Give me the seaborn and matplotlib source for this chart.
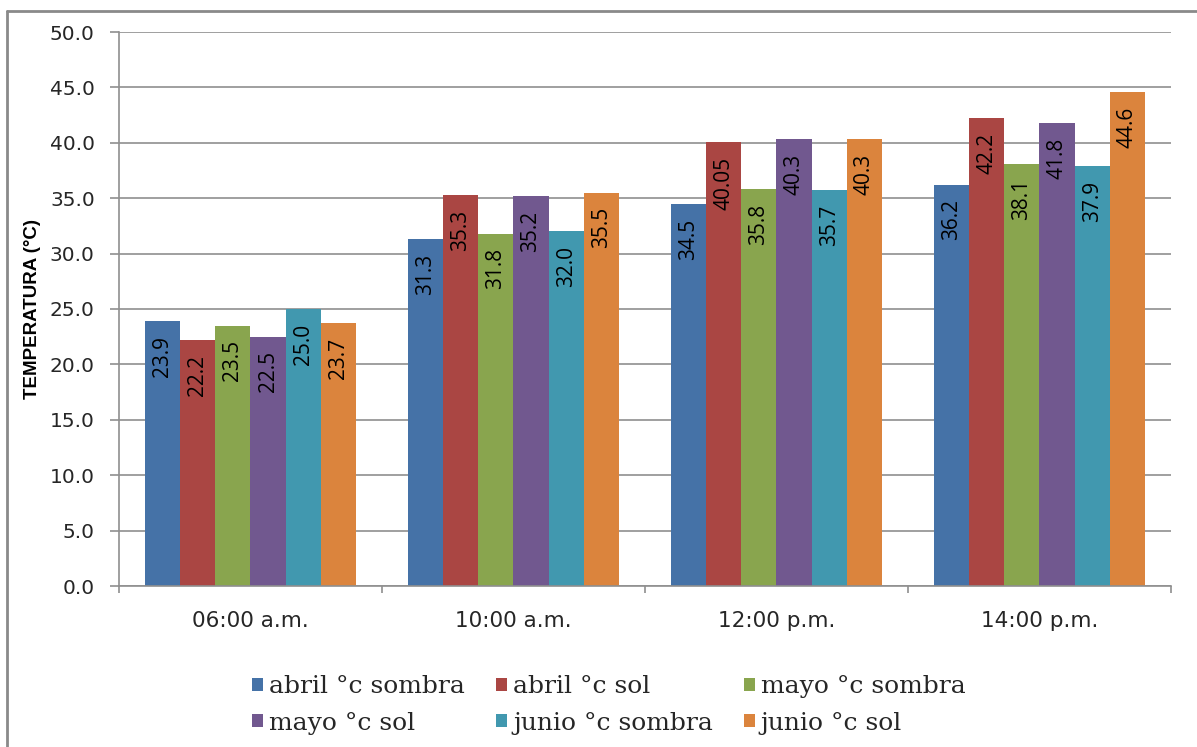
import matplotlib
matplotlib.use("Agg")
import matplotlib.pyplot as plt
from matplotlib.lines import Line2D
from matplotlib.ticker import FixedLocator, FuncFormatter
import numpy as np
import pandas as pd
import seaborn as sns

# Hours of measurement
horas = ["06:00 a.m.", "10:00 a.m.", "12:00 p.m.", "14:00 p.m."]

# Temperature series (°C)
series = ["abril °c sombra", "abril °c sol", "mayo °c sombra",
          "mayo °c sol", "junio °c sombra", "junio °c sol"]
abril_sombra = [23.9, 31.3, 34.5, 36.2]
abril_sol = [22.2, 35.3, 40.05, 42.2]
mayo_sombra = [23.5, 31.8, 35.8, 38.1]
mayo_sol = [22.5, 35.2, 40.3, 41.8]
junio_sombra = [25.0, 32.0, 35.7, 37.9]
junio_sol = [23.7, 35.5, 40.3, 44.6]
valores = [abril_sombra, abril_sol, mayo_sombra, mayo_sol, junio_sombra, junio_sol]

colores = ["#4572A7", "#AA4643", "#89A54E", "#71588F", "#4198AF", "#DB843D"]

df = pd.DataFrame(
    [(h, s, v) for s, vals in zip(series, valores) for h, v in zip(horas, vals)],
    columns=["hora", "serie", "temp"],
)

sns.set_style("white")
plt.rcParams["font.family"] = ["DejaVu Sans"]

fig = plt.figure(figsize=(11.97, 7.47), dpi=100)
W, H = 1197, 747
ax = fig.add_axes([119 / W, 1 - 586 / H, 1052 / W, 554 / H])

sns.barplot(
    data=df, x="hora", y="temp", hue="serie", order=horas, hue_order=series,
    palette=colores, saturation=1, width=0.8, linewidth=0, ax=ax,
)

handles, labels = ax.get_legend_handles_labels()
ax.get_legend().remove()

grid_col = "#8f8f8f"
ax.set_ylim(0, 50)
ax.set_xlim(-0.5, len(horas) - 0.5)
ax.set_yticks(np.arange(0, 50.1, 5))
ax.yaxis.set_major_formatter(FuncFormatter(lambda v, p: f"{v:.1f}"))
ax.yaxis.grid(True, color=grid_col, linewidth=1.2)
ax.set_axisbelow(True)
for side in ("top", "right"):
    ax.spines[side].set_visible(False)
for side in ("left", "bottom"):
    ax.spines[side].set_color(grid_col)
    ax.spines[side].set_linewidth(1.2)

ax.tick_params(axis="y", length=6.5, width=1.2, color=grid_col, pad=11,
               labelsize=14.5, labelcolor="#262626", left=True)
ax.tick_params(axis="x", which="major", length=0, pad=18, labelsize=15.5,
               labelcolor="#262626")
ax.xaxis.set_minor_locator(FixedLocator(np.arange(-0.5, len(horas), 1.0)))
ax.tick_params(axis="x", which="minor", length=5, width=1.2, color=grid_col,
               bottom=True)

ax.set_xlabel("")
ax.set_ylabel("TEMPERATURA (°C)", fontsize=13.5, fontweight="bold",
              family="Liberation Sans", color="black")
ax.yaxis.set_label_coords(-0.074, 0.5)


def etiqueta(v):
    s = f"{v:.2f}"
    return s[:-1] if s.endswith("0") else s


for cont, vals in zip(ax.containers, valores):
    for bar, v in zip(cont, vals):
        x = bar.get_x() + bar.get_width() / 2
        ax.annotate(etiqueta(v), (x, v), xytext=(0, -10.5),
                    textcoords="offset points", rotation=90,
                    ha="center", va="top", fontsize=15,
                    family="Open Sans", color="black")

# Legend laid out row by row in three columns
orden = [0, 3, 1, 4, 2, 5]
fig.legend(
    [handles[i] for i in orden], [labels[i] for i in orden],
    loc="center", bbox_to_anchor=(609 / W, 1 - 705 / H), ncol=3,
    frameon=False, prop=dict(family="DejaVu Serif", size=18),
    handlelength=0.42, handleheight=0.42, handletextpad=0.25,
    columnspacing=1.25, labelspacing=0.55,
)

# Chart area border (left and top edges)
frame_col = "#8a8a8a"
fig.add_artist(Line2D([7 / W, 7 / W], [0, 1 - 11 / H], color=frame_col,
                      linewidth=2, transform=fig.transFigure))
fig.add_artist(Line2D([7 / W, 1], [1 - 11 / H, 1 - 11 / H], color=frame_col,
                      linewidth=2, transform=fig.transFigure))

fig.savefig("out.png", dpi=100)
